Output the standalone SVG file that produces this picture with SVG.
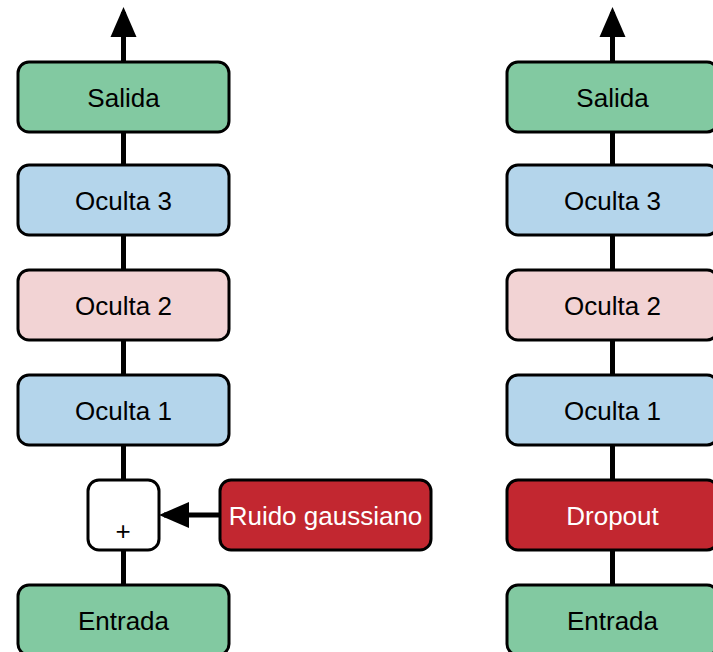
<svg xmlns="http://www.w3.org/2000/svg" width="713" height="652" viewBox="0 0 713 652">
<style>
.n{stroke:#000;stroke-width:3}
.g{fill:#82C9A1}.b{fill:#B4D5EB}.p{fill:#F2D3D4}.r{fill:#C22730}.w{fill:#fff}
text{font-family:"Liberation Sans",Arial,sans-serif;font-size:26px;text-anchor:middle;fill:#000}
.wt{fill:#fff}
.c{stroke:#000;stroke-width:5;fill:none}
</style>
<defs>
<marker id="ah" markerWidth="6" markerHeight="6" refX="5" refY="3" orient="auto" markerUnits="strokeWidth" viewBox="0 0 6 6"><path d="M0,0.4L6,3L0,5.6z" fill="#000"/></marker>
</defs>
<g id="connectors">
<line class="c" x1="123.5" y1="62" x2="123.5" y2="12" marker-end="url(#ah)"/>
<line class="c" x1="123.5" y1="132" x2="123.5" y2="165"/>
<line class="c" x1="123.5" y1="235" x2="123.5" y2="270"/>
<line class="c" x1="123.5" y1="340" x2="123.5" y2="375"/>
<line class="c" x1="123.5" y1="445" x2="123.5" y2="480"/>
<line class="c" x1="123.5" y1="550" x2="123.5" y2="585"/>
<line class="c" x1="220" y1="515" x2="164" y2="515" marker-end="url(#ah)"/>
<line class="c" x1="612.5" y1="62" x2="612.5" y2="12" marker-end="url(#ah)"/>
<line class="c" x1="612.5" y1="132" x2="612.5" y2="165"/>
<line class="c" x1="612.5" y1="235" x2="612.5" y2="270"/>
<line class="c" x1="612.5" y1="340" x2="612.5" y2="375"/>
<line class="c" x1="612.5" y1="445" x2="612.5" y2="480"/>
<line class="c" x1="612.5" y1="550" x2="612.5" y2="585"/>
</g>
<g id="salida1"><rect class="n g" x="18" y="62" width="211" height="70" rx="11"/><text x="123.5" y="106.5">Salida</text></g>
<g id="oculta3_1"><rect class="n b" x="18" y="165" width="211" height="70" rx="11"/><text x="123.5" y="209.5">Oculta 3</text></g>
<g id="oculta2_1"><rect class="n p" x="18" y="270" width="211" height="70" rx="11"/><text x="123.5" y="314.5">Oculta 2</text></g>
<g id="oculta1_1"><rect class="n b" x="18" y="375" width="211" height="70" rx="11"/><text x="123.5" y="419.5">Oculta 1</text></g>
<g id="suma"><rect class="n w" x="88" y="480" width="71" height="70" rx="11"/><text x="123" y="540" font-size="26">+</text></g>
<g id="ruido"><rect class="n r" x="220" y="480" width="211" height="70" rx="11"/><text class="wt" x="325.5" y="524.5">Ruido gaussiano</text></g>
<g id="entrada1"><rect class="n g" x="18" y="585" width="211" height="70" rx="11"/><text x="123.5" y="629.5">Entrada</text></g>
<g id="salida2"><rect class="n g" x="507" y="62" width="211" height="70" rx="11"/><text x="612.5" y="106.5">Salida</text></g>
<g id="oculta3_2"><rect class="n b" x="507" y="165" width="211" height="70" rx="11"/><text x="612.5" y="209.5">Oculta 3</text></g>
<g id="oculta2_2"><rect class="n p" x="507" y="270" width="211" height="70" rx="11"/><text x="612.5" y="314.5">Oculta 2</text></g>
<g id="oculta1_2"><rect class="n b" x="507" y="375" width="211" height="70" rx="11"/><text x="612.5" y="419.5">Oculta 1</text></g>
<g id="dropout"><rect class="n r" x="507" y="480" width="211" height="70" rx="11"/><text class="wt" x="612.5" y="524.5">Dropout</text></g>
<g id="entrada2"><rect class="n g" x="507" y="585" width="211" height="70" rx="11"/><text x="612.5" y="629.5">Entrada</text></g>
</svg>
